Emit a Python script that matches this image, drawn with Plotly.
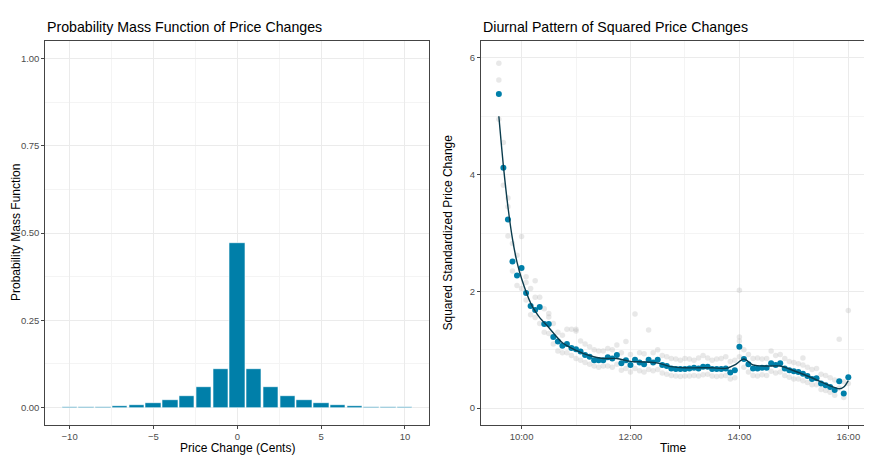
"""
Price change PMF and diurnal pattern of squared price changes.
"""

import pandas as pd
import plotly.graph_objects as go

# --- left panel: probability mass function of price changes (cents)
price_change = [-10, -9, -8, -7, -6, -5, -4, -3, -2, -1, 0,
                1, 2, 3, 4, 5, 6, 7, 8, 9, 10]
pmf = [0.0015, 0.002, 0.003, 0.0055, 0.0086, 0.0133, 0.021, 0.034, 0.058, 0.111, 0.471,
       0.110, 0.058, 0.034, 0.021, 0.0133, 0.0086, 0.0055, 0.003, 0.002, 0.0015]

# --- right panel: 5-minute averages of squared standardized price changes
times = pd.date_range("2000-01-01 09:35", "2000-01-01 16:00", freq="5min")

sq_change = [5.38, 4.12, 3.23, 2.51, 2.27,
             2.40, 1.97, 1.75, 1.68, 1.73, 1.44, 1.44, 1.22, 1.14, 1.07, 1.10, 1.03,
             1.01, 0.97, 0.91, 0.88, 0.82, 0.82, 0.82, 0.87, 0.85, 0.91, 0.77, 0.82,
             0.74, 0.83, 0.78, 0.75, 0.83, 0.78, 0.83, 0.74, 0.72, 0.68, 0.67, 0.67,
             0.67, 0.68, 0.69, 0.68, 0.71, 0.71, 0.67, 0.67, 0.67, 0.68, 0.61, 0.65,
             1.05, 0.84, 0.75, 0.68, 0.68, 0.69, 0.69, 0.77, 0.74, 0.77, 0.68, 0.65,
             0.63, 0.62, 0.59, 0.55, 0.50, 0.51, 0.42, 0.39, 0.36, 0.31, 0.46, 0.25,
             0.53]

# individual observations behind the averages (upper and lower spread)
obs_high = [5.91, 4.55, 3.60, 2.82, 2.62,
            2.94, 2.25, 2.05, 2.18, 1.90, 1.70, 1.56, 1.45, 1.30, 1.25, 1.35, 1.35,
            1.35, 1.15, 1.10, 1.05, 1.00, 0.98, 0.98, 1.02, 1.00, 1.08, 0.95, 1.14,
            0.92, 1.61, 0.95, 0.93, 1.34, 0.95, 1.00, 0.90, 0.88, 0.85, 0.84, 0.82,
            0.85, 0.84, 0.82, 0.86, 0.90, 0.86, 0.82, 0.84, 0.85, 0.88, 0.80, 0.82,
            1.22, 1.00, 0.92, 0.85, 0.86, 0.84, 0.85, 0.98, 0.90, 0.92, 0.85, 0.80,
            0.78, 0.76, 0.74, 0.70, 0.66, 0.68, 0.58, 0.56, 0.52, 0.48, 1.18, 0.45,
            1.67]
obs_low = [4.95, 3.82, 2.95, 2.35, 2.10,
           2.05, 1.85, 1.60, 1.55, 1.45, 1.30, 1.28, 1.10, 0.98, 0.95, 0.95, 0.90,
           0.85, 0.82, 0.78, 0.75, 0.72, 0.70, 0.72, 0.72, 0.70, 0.75, 0.65, 0.68,
           0.62, 0.68, 0.64, 0.62, 0.66, 0.64, 0.66, 0.60, 0.58, 0.56, 0.55, 0.54,
           0.55, 0.55, 0.56, 0.55, 0.57, 0.58, 0.55, 0.54, 0.55, 0.56, 0.50, 0.52,
           0.88, 0.70, 0.62, 0.56, 0.55, 0.57, 0.56, 0.63, 0.60, 0.62, 0.56, 0.53,
           0.50, 0.50, 0.47, 0.44, 0.40, 0.40, 0.32, 0.30, 0.27, 0.22, 0.34, 0.18,
           0.42]
extra_times = ["2000-01-01 09:35", "2000-01-01 09:45", "2000-01-01 10:05",
               "2000-01-01 10:15", "2000-01-01 10:30", "2000-01-01 11:00",
               "2000-01-01 14:00", "2000-01-01 14:00", "2000-01-01 15:10"]
extra_values = [5.62, 3.45, 2.15, 1.90, 1.62, 1.32, 2.02, 1.15, 0.86]

# loess curve
smooth_times = ["2000-01-01 " + t for t in
                ["09:35", "09:40", "09:45", "09:50", "09:55", "10:00", "10:10", "10:15",
                 "10:20", "10:30", "10:45", "11:00", "11:15", "11:30", "11:45", "12:00",
                 "12:15", "12:30", "12:45", "13:00", "13:15", "13:30", "13:45", "13:55",
                 "14:05", "14:15", "14:30", "14:45", "15:00", "15:15", "15:30", "15:40",
                 "15:50", "15:55", "16:00"]]
smooth_values = [5.00, 4.15, 3.45, 2.90, 2.50, 2.22, 1.80, 1.66,
                 1.55, 1.38, 1.12, 0.99, 0.90, 0.85, 0.85, 0.80,
                 0.79, 0.77, 0.71, 0.69, 0.69, 0.69, 0.68, 0.74,
                 0.84, 0.74, 0.72, 0.72, 0.64, 0.55, 0.45, 0.38,
                 0.33, 0.36, 0.47]

BLUE = "#007FA9"
LINE = "#0B3C4D"
GRID = "#EBEBEB"
MINOR = "#F4F4F4"
BORDER = "#444444"
FONT = "Liberation Sans, Arial, sans-serif"
TICK_FONT = dict(family=FONT, size=9.5, color="#4D4D4D")

# the page body adds an 8px margin, so the figure is 8px smaller and
# positions are given in window pixels minus that offset
W, H, OFF = 864, 468, 8


def px_x(x):
    return (x - OFF) / W


def px_y(y):
    return 1 - (y - OFF) / H


left_dom = [px_x(45.3), px_x(429.3)]
right_dom = [px_x(481), px_x(866)]
y_dom = [px_y(425), px_y(41)]

fig = go.Figure()

fig.add_trace(go.Bar(
    x=price_change, y=pmf, width=0.92,
    marker=dict(color=BLUE, line=dict(color="white", width=0.6)),
    xaxis="x", yaxis="y", showlegend=False
))

gray = dict(color="rgba(185,185,185,0.32)", size=5.5)
fig.add_trace(go.Scatter(x=times, y=obs_high, mode="markers", marker=gray,
                         xaxis="x2", yaxis="y2", showlegend=False))
fig.add_trace(go.Scatter(x=times, y=obs_low, mode="markers", marker=gray,
                         xaxis="x2", yaxis="y2", showlegend=False))
fig.add_trace(go.Scatter(x=extra_times, y=extra_values, mode="markers", marker=gray,
                         xaxis="x2", yaxis="y2", showlegend=False))
fig.add_trace(go.Scatter(x=times, y=sq_change, mode="markers",
                         marker=dict(color=BLUE, size=6),
                         xaxis="x2", yaxis="y2", showlegend=False))
fig.add_trace(go.Scatter(x=smooth_times, y=smooth_values, mode="lines",
                         line=dict(color=LINE, width=1.4, shape="spline", smoothing=0.8),
                         xaxis="x2", yaxis="y2", showlegend=False))

axis_common = dict(
    showline=True, linecolor=BORDER, linewidth=1, mirror=True,
    ticks="outside", ticklen=3, tickcolor=BORDER, tickwidth=1,
    showgrid=True, gridcolor=GRID, gridwidth=1, zeroline=False,
    tickfont=TICK_FONT,
)

fig.update_layout(
    width=W, height=H,
    margin=dict(l=0, r=0, t=0, b=0),
    paper_bgcolor="white", plot_bgcolor="white",
    bargap=0,
    xaxis=dict(axis_common, domain=left_dom, range=[-11.45, 11.45],
               tickvals=[-10, -5, 0, 5, 10],
               minor=dict(tickvals=[-7.5, -2.5, 2.5, 7.5], showgrid=True,
                          gridcolor=MINOR, gridwidth=0.6, ticks="")),
    yaxis=dict(axis_common, domain=y_dom, range=[-0.05, 1.05],
               tickvals=[0, 0.25, 0.5, 0.75, 1.0], tickformat=".2f",
               minor=dict(tickvals=[0.125, 0.375, 0.625, 0.875], showgrid=True,
                          gridcolor=MINOR, gridwidth=0.6, ticks="")),
    xaxis2=dict(axis_common, domain=right_dom, anchor="y2",
                range=["2000-01-01 09:15:20", "2000-01-01 16:19:30"],
                tickvals=["2000-01-01 10:00", "2000-01-01 12:00",
                          "2000-01-01 14:00", "2000-01-01 16:00"],
                tickformat="%H:%M",
                minor=dict(tickvals=["2000-01-01 11:00", "2000-01-01 13:00",
                                     "2000-01-01 15:00"],
                           showgrid=True, gridcolor=MINOR, gridwidth=0.6, ticks="")),
    yaxis2=dict(axis_common, domain=y_dom, range=[-0.29, 6.29],
                tickvals=[0, 2, 4, 6], anchor="x2",
                minor=dict(tickvals=[1, 3, 5], showgrid=True,
                           gridcolor=MINOR, gridwidth=0.6, ticks="")),
)

title_font = dict(family=FONT, size=14.2, color="black")
label_font = dict(family=FONT, size=12, color="black")
annotations = [
    dict(text="Probability Mass Function of Price Changes", x=left_dom[0], y=px_y(27),
         xanchor="left", yanchor="middle", font=title_font),
    dict(text="Diurnal Pattern of Squared Price Changes", x=right_dom[0], y=px_y(27),
         xanchor="left", yanchor="middle", font=title_font),
    dict(text="Price Change (Cents)", x=sum(left_dom) / 2, y=px_y(448),
         xanchor="center", yanchor="middle", font=label_font),
    dict(text="Time", x=sum(right_dom) / 2, y=px_y(448),
         xanchor="center", yanchor="middle", font=label_font),
    dict(text="Probability Mass Function", x=px_x(16), y=sum(y_dom) / 2,
         xanchor="center", yanchor="middle", textangle=-90, font=label_font),
    dict(text="Squared Standardized Price Change", x=px_x(447.5), y=sum(y_dom) / 2,
         xanchor="center", yanchor="middle", textangle=-90, font=label_font),
]
for a in annotations:
    a.update(xref="paper", yref="paper", showarrow=False)
fig.update_layout(annotations=annotations)

fig.write_html("out.html")
